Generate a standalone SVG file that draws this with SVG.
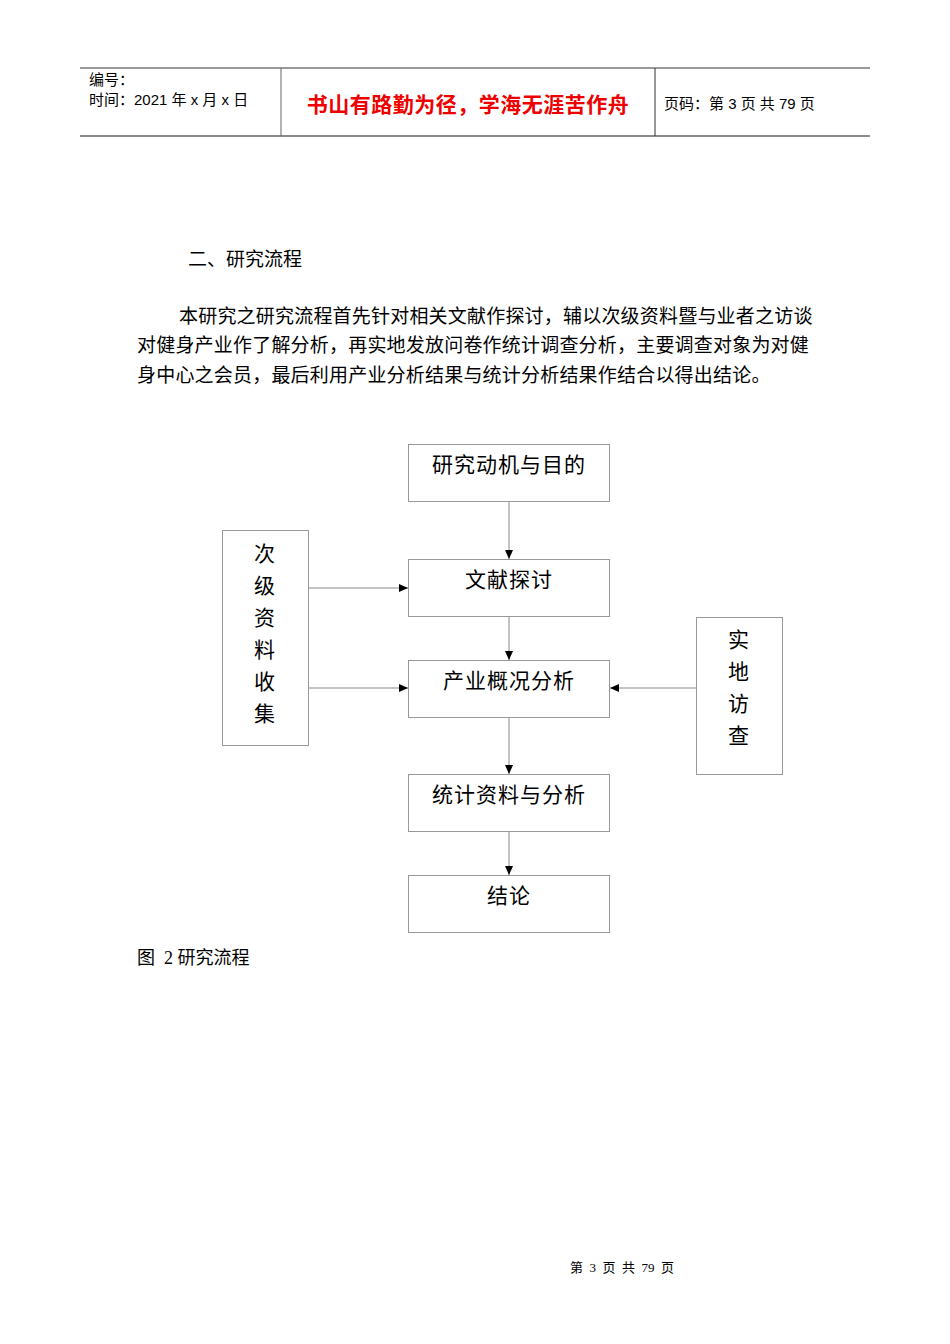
<svg xmlns="http://www.w3.org/2000/svg" width="950" height="1344" viewBox="0 0 950 1344">
<style>
.s{font-family:"Liberation Serif","Noto Sans CJK SC",serif;fill:#000}
.h{font-family:"Liberation Sans","Noto Sans CJK SC",sans-serif;fill:#000}
.box{fill:#fff;stroke:#999;stroke-width:1}
.c{stroke:#888;stroke-width:1;fill:none}
.n{font-family:"Liberation Serif","Noto Sans CJK SC",serif;font-size:21px;letter-spacing:1px;fill:#000;text-anchor:middle}
</style>
<defs><marker id="a" markerWidth="10" markerHeight="10" refX="9" refY="5" orient="auto" markerUnits="userSpaceOnUse"><path d="M0,1 L9,5 L0,9 Z" fill="#000"/></marker></defs>
<rect width="950" height="1344" fill="#fff"/>
<g id="header">
<line x1="80" y1="68" x2="870" y2="68" stroke="#333" stroke-width="1"/>
<line x1="80" y1="136" x2="870" y2="136" stroke="#666" stroke-width="1.5"/>
<line x1="281" y1="68" x2="281" y2="136" stroke="#666"/>
<line x1="655" y1="68" x2="655" y2="136" stroke="#333"/>
<text class="h" x="89" y="85" font-size="15">编号：</text>
<text class="h" x="89" y="105" font-size="15">时间：2021 年 x 月 x 日</text>
<text class="h" x="468" y="112" font-size="21" font-weight="bold" style="fill:#e00" text-anchor="middle" letter-spacing="0.5">书山有路勤为径，学海无涯苦作舟</text>
<text class="h" x="664" y="109" font-size="15">页码：第 3 页  共 79 页</text>
</g>
<text class="s" x="188" y="266" font-size="19">二、研究流程</text>
<text class="s" x="179" y="323" font-size="19" letter-spacing="0.2">本研究之研究流程首先针对相关文献作探讨，辅以次级资料暨与业者之访谈</text>
<text class="s" x="137" y="352" font-size="19" letter-spacing="0.2">对健身产业作了解分析，再实地发放问卷作统计调查分析，主要调查对象为对健</text>
<text class="s" x="137" y="382" font-size="19" letter-spacing="0.2">身中心之会员，最后利用产业分析结果与统计分析结果作结合以得出结论。</text>
<g id="connectors">
<line class="c" x1="509" y1="501" x2="509" y2="559" marker-end="url(#a)"/>
<line class="c" x1="509" y1="616" x2="509" y2="660" marker-end="url(#a)"/>
<line class="c" x1="509" y1="717" x2="509" y2="774" marker-end="url(#a)"/>
<line class="c" x1="509" y1="832" x2="509" y2="875" marker-end="url(#a)"/>
<line class="c" x1="308" y1="588" x2="408" y2="588" marker-end="url(#a)"/>
<line class="c" x1="308" y1="688" x2="408" y2="688" marker-end="url(#a)"/>
<line class="c" x1="696" y1="688" x2="610" y2="688" marker-end="url(#a)"/>
</g>
<g id="n1"><rect class="box" x="408.5" y="444.5" width="201" height="57"/><text class="n" x="509" y="472">研究动机与目的</text></g>
<g id="n2"><rect class="box" x="408.5" y="559.5" width="201" height="57"/><text class="n" x="509" y="587">文献探讨</text></g>
<g id="n3"><rect class="box" x="408.5" y="660.5" width="201" height="57"/><text class="n" x="509" y="688">产业概况分析</text></g>
<g id="n4"><rect class="box" x="408.5" y="774.5" width="201" height="57"/><text class="n" x="509" y="802">统计资料与分析</text></g>
<g id="n5"><rect class="box" x="408.5" y="875.5" width="201" height="57"/><text class="n" x="509" y="903">结论</text></g>
<g id="n6"><rect class="box" x="222.5" y="530.5" width="86" height="215"/>
<text class="n" x="265" y="561">次</text><text class="n" x="265" y="593">级</text><text class="n" x="265" y="625">资</text><text class="n" x="265" y="657">料</text><text class="n" x="265" y="689">收</text><text class="n" x="265" y="721">集</text></g>
<g id="n7"><rect class="box" x="696.5" y="617.5" width="86" height="157"/>
<text class="n" x="739" y="647">实</text><text class="n" x="739" y="679">地</text><text class="n" x="739" y="711">访</text><text class="n" x="739" y="743">查</text></g>
<text class="s" x="137" y="964" font-size="18" xml:space="preserve">图  2 研究流程</text>
<text class="s" x="570" y="1272" font-size="13" xml:space="preserve">第  3  页  共  79  页</text>
</svg>
